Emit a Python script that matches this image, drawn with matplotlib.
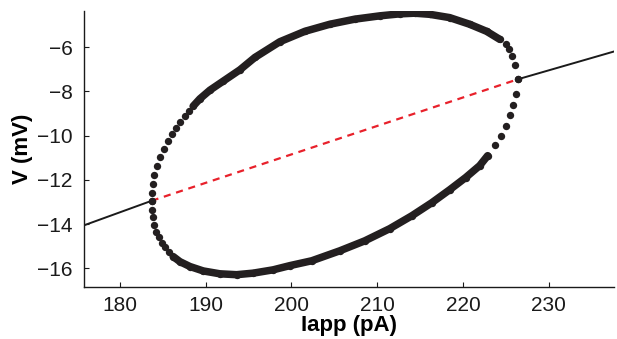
import matplotlib
matplotlib.use("Agg")
import matplotlib.pyplot as plt

plt.rcParams['font.family'] = ['Liberation Sans', 'DejaVu Sans']

# Equilibrium branch (stable / unstable / stable)
eq_left_I = [175.0, 183.68]
eq_left_V = [-14.17, -12.95]
eq_unst_I = [183.68, 226.47]
eq_unst_V = [-12.95, -7.45]
eq_right_I = [226.47, 238.0]
eq_right_V = [-7.45, -6.16]

# Periodic orbit: maximum of V (upper branch), left to right
up_I = [183.68, 183.75, 183.80, 183.99, 184.27, 184.65, 185.08, 185.58, 186.05,
        186.55, 187.02, 187.53, 188.00, 188.53, 189.31, 190.48, 192.00, 193.98,
        195.73, 198.64, 201.56, 204.47, 207.38, 210.30, 212.63, 214.38, 216.13,
        218.46, 220.79, 222.77, 224.29, 225.07, 225.37, 225.77, 226.12, 226.47]
up_V = [-12.95, -12.60, -12.19, -11.77, -11.36, -10.97, -10.59, -10.23, -9.91,
        -9.64, -9.38, -9.13, -8.90, -8.67, -8.34, -7.95, -7.55, -7.03,
        -6.47, -5.76, -5.29, -4.97, -4.74, -4.59, -4.50, -4.47, -4.52,
        -4.67, -4.97, -5.29, -5.65, -5.88, -6.10, -6.41, -6.82, -7.45]

# Periodic orbit: minimum of V (lower branch), left to right
lo_I = [183.68, 183.75, 183.80, 183.95, 184.19, 184.50, 184.85, 185.23, 185.70,
        186.20, 186.98, 188.15, 189.70, 191.65, 193.59, 195.53, 197.86, 199.81,
        202.37, 205.64, 208.55, 211.46, 214.03, 216.36, 218.46, 220.32, 221.96,
        222.89, 223.70, 224.40, 224.99, 225.45, 225.86, 226.21, 226.47]
lo_V = [-12.95, -13.35, -13.66, -14.03, -14.34, -14.59, -14.84, -15.04, -15.27,
        -15.47, -15.70, -15.92, -16.12, -16.25, -16.29, -16.22, -16.07, -15.88,
        -15.66, -15.21, -14.76, -14.21, -13.63, -13.04, -12.45, -11.90, -11.36,
        -10.91, -10.45, -10.00, -9.55, -9.09, -8.60, -8.10, -7.45]

x_ticks = [180, 190, 200, 210, 220, 230]
y_ticks = [-6, -8, -10, -12, -14, -16]

dot_color = '#231f20'

fig = plt.figure(figsize=(6.17, 3.39), dpi=100)
ax = fig.add_axes([0.1357, 0.1525, 0.859, 0.8151])

ax.plot(eq_left_I, eq_left_V, color='#1a1a1a', lw=1.4, zorder=2)
ax.plot(eq_right_I, eq_right_V, color='#1a1a1a', lw=1.4, zorder=2)
ax.plot(eq_unst_I, eq_unst_V, color='#e8212b', lw=1.6, ls=(0, (3.2, 2.6)), zorder=2)

# dense parts of the orbit drawn as thick band through the points
ax.plot(up_I[13:31], up_V[13:31], color=dot_color, lw=5.4, solid_capstyle='round',
        solid_joinstyle='round', zorder=3)
ax.plot(lo_I[9:28], lo_V[9:28], color=dot_color, lw=5.4, solid_capstyle='round',
        solid_joinstyle='round', zorder=3)
ax.plot(up_I, up_V, ls='none', marker='o', ms=5.3, mfc=dot_color, mec='none', zorder=4)
ax.plot(lo_I, lo_V, ls='none', marker='o', ms=5.3, mfc=dot_color, mec='none', zorder=4)

ax.set_xlim(175.76, 237.6)
ax.set_ylim(-16.86, -4.37)
ax.set_xticks(x_ticks)
ax.set_yticks(y_ticks)
ax.spines['top'].set_visible(False)
ax.spines['right'].set_visible(False)
for s in ('left', 'bottom'):
    ax.spines[s].set_linewidth(1.0)
    ax.spines[s].set_color('#1a1a1a')
ax.tick_params(direction='in', length=3.3, width=0.8, labelsize=15, colors='#1a1a1a')
ax.tick_params(axis='x', pad=6)
ax.tick_params(axis='y', pad=8)
ax.set_xlabel('Iapp (pA)', fontsize=16, fontweight='bold', labelpad=0)
ax.set_ylabel('V (mV)', fontsize=16, fontweight='bold', labelpad=3)

fig.savefig('out.png', dpi=100)
